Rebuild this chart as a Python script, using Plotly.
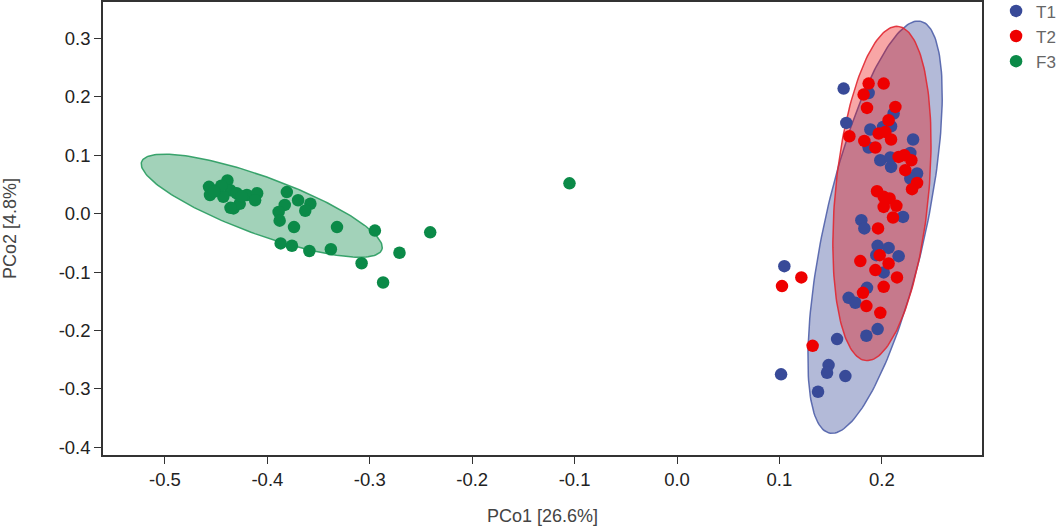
import numpy as np
import plotly.graph_objects as go

# PCoA scores
t1_x = [0.1627, 0.1871, 0.1653, 0.2115, 0.1888, 0.2012, 0.2090, 0.2305, 0.1871, 0.1985,
        0.2090, 0.2083, 0.2278, 0.2344, 0.2278, 0.2207, 0.1800, 0.1829, 0.1959, 0.2066,
        0.1946, 0.2164, 0.2018, 0.1855, 0.1676, 0.1741, 0.1959, 0.1849, 0.1563, 0.1480,
        0.1465, 0.1644, 0.1048, 0.1016, 0.1377]
t1_y = [0.2144, 0.2068, 0.1555, 0.1716, 0.1442, 0.1486, 0.1498, 0.1271, 0.1134, 0.0916,
        0.0801, 0.0962, 0.1041, 0.0688, 0.0603, -0.0055, -0.0111, -0.0253, -0.0551, -0.0586,
        -0.0711, -0.0728, -0.1007, -0.1271, -0.1442, -0.1527, -0.1978, -0.2092, -0.2149, -0.2594,
        -0.2726, -0.2783, -0.0899, -0.2753, -0.3051]

t2_x = [0.1871, 0.2018, 0.1822, 0.1855, 0.2132, 0.2066, 0.1683, 0.1829, 0.1937, 0.1969,
        0.2034, 0.2090, 0.2164, 0.2220, 0.2288, 0.2229, 0.2344, 0.2295, 0.1953, 0.2018,
        0.2076, 0.2018, 0.2142, 0.2109, 0.1963, 0.1979, 0.1790, 0.2066, 0.1937, 0.2148,
        0.2018, 0.1816, 0.1849, 0.1985, 0.1214, 0.1025, 0.1324]
t2_y = [0.2229, 0.2229, 0.2041, 0.1812, 0.1829, 0.1601, 0.1327, 0.1247, 0.1134, 0.1373,
        0.1401, 0.1271, 0.0973, 0.1002, 0.0916, 0.0745, 0.0527, 0.0420, 0.0385, 0.0288,
        0.0260, 0.0116, 0.0134, -0.0065, -0.0253, -0.0711, -0.0813, -0.0853, -0.0967, -0.1092,
        -0.1253, -0.1356, -0.1584, -0.1699, -0.1092, -0.1241, -0.2264]

f3_x = [-0.457, -0.456, -0.439, -0.449, -0.436, -0.430, -0.420, -0.410, -0.412, -0.433,
        -0.427, -0.443, -0.445, -0.436, -0.452, -0.425, -0.381, -0.370, -0.358, -0.363,
        -0.383, -0.389, -0.388, -0.374, -0.332, -0.295, -0.387, -0.376, -0.359, -0.338,
        -0.308, -0.287, -0.271, -0.241, -0.105]
f3_y = [0.046, 0.032, 0.057, 0.040, 0.040, 0.035, 0.032, 0.035, 0.023, 0.009,
        0.017, 0.029, 0.048, 0.010, 0.038, 0.030, 0.037, 0.023, 0.017, 0.005,
        0.015, 0.003, -0.012, -0.023, -0.023, -0.029, -0.051, -0.055, -0.064, -0.061,
        -0.085, -0.118, -0.067, -0.032, 0.052]

# confidence ellipses: centre, then two conjugate half-axis vectors (data units)
t1_ellipse = [(0.1934, -0.0231), (0.0446, 0.3527), (0.0481, -0.0187)]
t2_ellipse = [(0.2001, 0.0346), (0.0157, 0.2863), (0.0453, -0.0077)]
f3_ellipse = [(-0.4055, 0.0137), (0.1173, -0.0753), (-0.0096, -0.0461)]

x_ticks = [-0.5, -0.4, -0.3, -0.2, -0.1, 0.0, 0.1, 0.2]
x_tick_text = ['-0.5', '-0.4', '-0.3', '-0.2', '-0.1', '0.0', '0.1', '0.2']
y_ticks = [0.3, 0.2, 0.1, 0.0, -0.1, -0.2, -0.3, -0.4]
y_tick_text = ['0.3', '0.2', '0.1', '0.0', '-0.1', '-0.2', '-0.3', '-0.4']

FONT = 'Liberation Sans, Arial, sans-serif'


def ellipse_xy(ell, n=200):
    (cx, cy), (ux, uy), (vx, vy) = ell
    t = np.linspace(0, 2 * np.pi, n)
    return cx + ux * np.cos(t) + vx * np.sin(t), cy + uy * np.cos(t) + vy * np.sin(t)


groups = [
    ('T1', t1_x, t1_y, t1_ellipse, '#384a98', 'rgba(56,74,152,0.38)', 'rgba(80,96,170,0.9)'),
    ('T2', t2_x, t2_y, t2_ellipse, '#ee0000', 'rgba(235,0,0,0.35)', 'rgba(225,40,50,0.9)'),
    ('F3', f3_x, f3_y, f3_ellipse, '#0b8a48', 'rgba(10,138,72,0.38)', 'rgba(40,155,95,0.9)'),
]

fig = go.Figure()

for name, xs, ys, ell, col, fill, line in groups:
    ex, ey = ellipse_xy(ell)
    fig.add_trace(go.Scatter(
        x=ex, y=ey, mode='lines', fill='toself', fillcolor=fill,
        line=dict(color=line, width=1.5), hoverinfo='skip', showlegend=False,
    ))

for name, xs, ys, ell, col, fill, line in groups:
    fig.add_trace(go.Scatter(
        x=xs, y=ys, mode='markers', name=name,
        marker=dict(color=col, size=12.5, line=dict(width=0)),
    ))

axis_common = dict(
    showgrid=False, zeroline=False, showline=True, linecolor='#333333', linewidth=1.5,
    mirror=True, ticks='outside', ticklen=7, tickwidth=1.2, tickcolor='#333333',
    tickfont=dict(family=FONT, size=18.5, color='#222222'),
)

fig.update_layout(
    width=1063, height=528,
    margin=dict(l=103, r=81, t=2, b=73, autoexpand=False),
    paper_bgcolor='white', plot_bgcolor='white',
    xaxis=dict(
        range=[-0.5605, 0.2978], tickvals=x_ticks, ticktext=x_tick_text,
        title=dict(text='PCo1 [26.6%]', standoff=20,
                   font=dict(family=FONT, size=18, color='#444444')),
        **axis_common,
    ),
    yaxis=dict(
        range=[-0.4135, 0.3627], tickvals=y_ticks, ticktext=y_tick_text,
        title=dict(text='PCo2 [4.8%]', standoff=38,
                   font=dict(family=FONT, size=18, color='#444444')),
        **axis_common,
    ),
    legend=dict(
        x=1.016, y=1.019, xanchor='left', yanchor='top',
        font=dict(family=FONT, size=17, color='#666666'),
        bgcolor='rgba(0,0,0,0)',
    ),
)

fig.write_html('out.html', config={'displayModeBar': False},
               post_script="document.body.style.margin='0';")
